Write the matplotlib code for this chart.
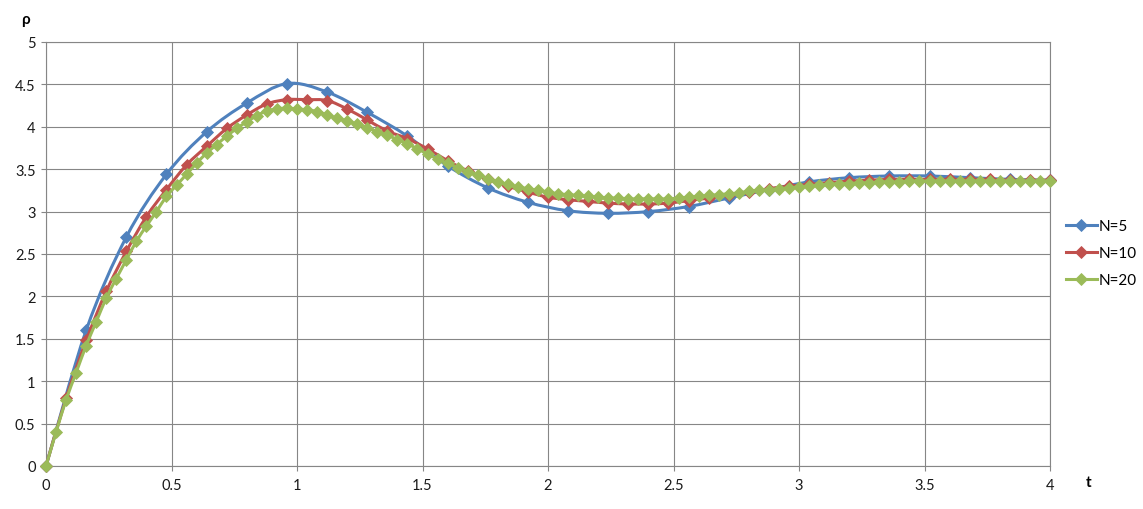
import matplotlib
matplotlib.use("Agg")
import matplotlib.pyplot as plt
from matplotlib.lines import Line2D
from matplotlib.patches import PathPatch
from matplotlib.path import Path
from matplotlib.ticker import FuncFormatter, MultipleLocator
import numpy as np


# time step of each series (markers are evenly spaced in t)
STEP_N5 = 0.16
STEP_N10 = 0.08
STEP_N20 = 0.04

RHO_N5 = [
    0.00, 1.60, 2.70, 3.44, 3.94, 4.28, 4.51, 4.41, 4.17, 3.89,
    3.54, 3.28, 3.11, 3.01, 2.98, 3.00, 3.06, 3.16, 3.26, 3.35,
    3.40, 3.42, 3.42, 3.40, 3.38, 3.37,
]

RHO_N10 = [
    0.00, 0.80, 1.48, 2.06, 2.53, 2.94, 3.26, 3.55, 3.77, 3.98,
    4.14, 4.27, 4.32, 4.32, 4.31, 4.21, 4.08, 3.95, 3.86, 3.74,
    3.60, 3.48, 3.38, 3.30, 3.23, 3.17, 3.14, 3.12, 3.10, 3.09,
    3.09, 3.10, 3.13, 3.16, 3.20, 3.23, 3.27, 3.30, 3.32, 3.34,
    3.36, 3.37, 3.38, 3.38, 3.38, 3.38, 3.38, 3.38, 3.37, 3.37,
    3.37,
]

RHO_N20 = [
    0.00, 0.40, 0.78, 1.10, 1.42, 1.70, 1.98, 2.21, 2.43, 2.65,
    2.83, 3.00, 3.18, 3.31, 3.44, 3.57, 3.69, 3.79, 3.89, 3.98,
    4.06, 4.13, 4.19, 4.21, 4.22, 4.21, 4.20, 4.18, 4.14, 4.10,
    4.07, 4.03, 3.99, 3.94, 3.90, 3.85, 3.80, 3.74, 3.68, 3.62,
    3.57, 3.52, 3.47, 3.43, 3.39, 3.35, 3.32, 3.29, 3.27, 3.25,
    3.23, 3.21, 3.20, 3.19, 3.18, 3.17, 3.16, 3.16, 3.15, 3.15,
    3.15, 3.15, 3.15, 3.16, 3.17, 3.18, 3.19, 3.20, 3.21, 3.22,
    3.24, 3.25, 3.26, 3.27, 3.28, 3.29, 3.30, 3.31, 3.32, 3.33,
    3.33, 3.34, 3.34, 3.35, 3.35, 3.35, 3.36, 3.36, 3.36, 3.36,
    3.36, 3.36, 3.36, 3.36, 3.36, 3.36, 3.36, 3.36, 3.36, 3.36,
    3.36,
]

LABELS = ["N=5", "N=10", "N=20"]
COLORS = ["#4F81BD", "#C0504D", "#9BBB59"]
GRID_COLOR = "#868686"
FONT = ["Lato", "DejaVu Sans"]
MARKER_SIZE = 6.6


def smooth_path(x, y):
    # Excel-like smoothed line: cubic Bezier through each pair of points
    pts = np.column_stack([x, y])
    n = len(pts)
    verts = [pts[0]]
    codes = [Path.MOVETO]
    for i in range(n - 1):
        p0 = pts[max(i - 1, 0)]
        p1 = pts[i]
        p2 = pts[i + 1]
        p3 = pts[min(i + 2, n - 1)]
        verts += [p1 + (p2 - p0) / 6.0, p2 - (p3 - p1) / 6.0, p2]
        codes += [Path.CURVE4] * 3
    return Path(verts, codes)


def main():
    plt.rcParams["font.family"] = FONT
    fig = plt.figure(figsize=(11.43, 5.10), dpi=100)
    ax = fig.add_axes([46 / 1143, 1 - 467 / 510, 1004 / 1143, 424 / 510])

    series = [(STEP_N5, RHO_N5), (STEP_N10, RHO_N10), (STEP_N20, RHO_N20)]
    handles = []
    for k, (step, rho) in enumerate(series):
        rho = np.asarray(rho)
        t = np.arange(len(rho)) * step
        color = COLORS[k]
        patch = PathPatch(smooth_path(t, rho), facecolor="none", edgecolor=color,
                          linewidth=2.2, capstyle="round", joinstyle="round",
                          zorder=3 + k)
        ax.add_patch(patch)
        ax.plot(t, rho, linestyle="none", marker="D", markersize=MARKER_SIZE,
                color=color, markeredgecolor=color, markeredgewidth=0.6,
                clip_on=False, zorder=3.5 + k)
        handles.append(Line2D([], [], color=color, linewidth=2.2, marker="D",
                              markersize=MARKER_SIZE, markeredgewidth=0.6,
                              label=LABELS[k]))

    ax.set_xlim(0, 4)
    ax.set_ylim(0, 5)
    ax.xaxis.set_major_locator(MultipleLocator(0.5))
    ax.yaxis.set_major_locator(MultipleLocator(0.5))
    fmt = FuncFormatter(lambda v, _: f"{v:g}")
    ax.xaxis.set_major_formatter(fmt)
    ax.yaxis.set_major_formatter(fmt)
    ax.grid(True, color=GRID_COLOR, linewidth=0.8, zorder=0)
    ax.set_axisbelow(True)
    for side in ax.spines.values():
        side.set_color(GRID_COLOR)
        side.set_linewidth(0.8)
    ax.tick_params(direction="out", length=3.5, width=0.8, color=GRID_COLOR,
                   labelsize=10.5, labelcolor="#1a1a1a")
    ax.tick_params(axis="y", pad=4)
    ax.tick_params(axis="x", pad=5)

    fig.text(25 / 1143, 1 - 20 / 510, "ρ", fontsize=11, fontweight="bold",
             ha="center", va="center")
    fig.text(1089 / 1143, 1 - 483 / 510, "t", fontsize=11, fontweight="bold",
             ha="center", va="center")

    fig.legend(handles=handles, loc="center left",
               bbox_to_anchor=(1060 / 1143, 1 - 254 / 510), frameon=False,
               fontsize=11, handlelength=2.0, handletextpad=0.15,
               labelspacing=0.85, borderaxespad=0)

    fig.savefig("out.png", dpi=100)
    plt.close(fig)


if __name__ == "__main__":
    main()
